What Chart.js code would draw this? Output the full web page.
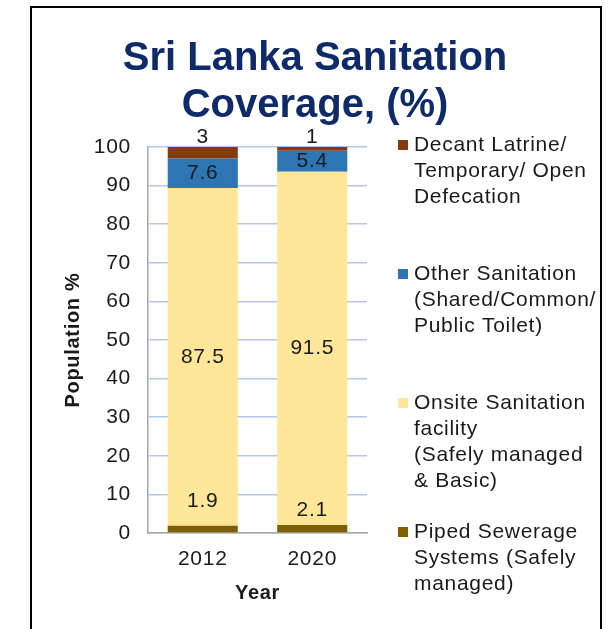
<!DOCTYPE html>
<html>
<head>
<meta charset="utf-8">
<script src="https://cdn.jsdelivr.net/npm/chart.js@4/dist/chart.umd.min.js"></script>
<style>
  html, body { margin: 0; padding: 0; background: #fff; }
  #wrap { width: 613px; height: 629px; }
</style>
</head>
<body>
<div id="wrap"><canvas id="sanitation"></canvas></div>
<script>
// categorias e valores (%)
const years = ["2012", "2020"];
const piped = [1.9, 2.1];
const onsite = [87.5, 91.5];
const other = [7.6, 5.4];
const decant = [3, 1];

const seriesNames = [
    "Piped Sewerage Systems (Safely managed)",
    "Onsite Sanitation facility (Safely managed & Basic)",
    "Other Sanitation (Shared/Common/ Public Toilet)",
    "Decant Latrine/ Temporary/ Open Defecation"
];
const seriesColors = ["#7f6000", "#ffe699", "#2e75b6", "#843c0c"];

// texto da legenda, linha a linha (de cima para baixo)
const legendLines = [
    ["Decant Latrine/", "Temporary/ Open", "Defecation"],
    ["Other Sanitation", "(Shared/Common/", "Public Toilet)"],
    ["Onsite Sanitation", "facility", "(Safely managed", "& Basic)"],
    ["Piped Sewerage", "Systems (Safely", "managed)"]
];
const legendColors = ["#843c0c", "#2e75b6", "#ffe699", "#7f6000"];

const titleLines = ["Sri Lanka Sanitation", "Coverage, (%)"];

const FONT = "'Liberation Sans', Arial, sans-serif";
const TEXT = "#1a1a1a";
const SPACING = "0.7px";

// moldura preta aberta em baixo + título
const framePlugin = {
    id: "frame",
    beforeDraw(chart) {
        const ctx = chart.ctx;
        ctx.save();
        ctx.strokeStyle = "#000";
        ctx.lineWidth = 2;
        ctx.beginPath();
        ctx.moveTo(31, 629);
        ctx.lineTo(31, 7);
        ctx.lineTo(601, 7);
        ctx.lineTo(601, 629);
        ctx.stroke();

        ctx.letterSpacing = "0px";
        ctx.fillStyle = "#0f2a69";
        ctx.font = "bold 40px " + FONT;
        ctx.textAlign = "center";
        ctx.textBaseline = "alphabetic";
        titleLines.forEach((t, i) => ctx.fillText(t, 315, 70 + i * 47));
        ctx.restore();
        // espaçamento para os textos dos eixos
        ctx.letterSpacing = SPACING;
    }
};

// rótulos de valor nas barras
const valueLabelPlugin = {
    id: "valueLabels",
    afterDatasetsDraw(chart) {
        const ctx = chart.ctx;
        const pipedLift = [24, 15];
        ctx.save();
        ctx.letterSpacing = SPACING;
        ctx.font = "21px " + FONT;
        ctx.fillStyle = TEXT;
        ctx.textAlign = "center";
        ctx.textBaseline = "middle";
        chart.data.datasets.forEach((ds, di) => {
            const meta = chart.getDatasetMeta(di);
            meta.data.forEach((bar, i) => {
                const v = ds.data[i];
                let y;
                if (di === 0) y = bar.y - pipedLift[i];
                else if (di === 3) y = bar.y - 10;
                else y = (bar.y + bar.base) / 2;
                ctx.fillText(String(v), bar.x, y);
            });
        });
        ctx.restore();
    }
};

// legenda à direita com várias linhas por item
const sideLegendPlugin = {
    id: "sideLegend",
    afterDraw(chart) {
        const ctx = chart.ctx;
        const x0 = 398, top = 145, itemStep = 129, lineH = 26;
        ctx.save();
        ctx.letterSpacing = SPACING;
        ctx.font = "21px " + FONT;
        ctx.textAlign = "left";
        ctx.textBaseline = "middle";
        legendLines.forEach((lines, i) => {
            const y = top + i * itemStep;
            ctx.fillStyle = legendColors[i];
            ctx.fillRect(x0, y - 5, 10, 10);
            ctx.fillStyle = TEXT;
            lines.forEach((t, j) => ctx.fillText(t, x0 + 16, y + j * lineH));
        });
        ctx.restore();
    }
};

const ctx = document.getElementById("sanitation").getContext("2d");

new Chart(ctx, {
    type: "bar",
    data: {
        labels: years,
        datasets: [piped, onsite, other, decant].map((vals, i) => ({
            label: seriesNames[i],
            data: vals,
            backgroundColor: seriesColors[i],
            borderWidth: 0,
            barPercentage: 0.64,
            categoryPercentage: 1
        }))
    },
    options: {
        responsive: true,
        maintainAspectRatio: false,
        animation: false,
        layout: { padding: { left: 61, right: 246, top: 147, bottom: 24 } },
        plugins: {
            legend: { display: false },
            title: { display: false },
            tooltip: { enabled: false }
        },
        scales: {
            x: {
                stacked: true,
                grid: { display: false, drawTicks: false },
                border: { color: "#a6a6a6", width: 1.5 },
                ticks: { color: TEXT, font: { family: FONT, size: 21 }, padding: 14 },
                title: {
                    display: true, text: "Year", color: TEXT,
                    font: { family: FONT, size: 20, weight: "bold" },
                    padding: 0
                },
                afterFit(scale) { scale.height = 72; }
            },
            y: {
                stacked: true,
                min: 0,
                max: 100,
                grid: { color: "#b4c7e7", lineWidth: 1.5, drawTicks: false },
                border: { color: "#a6a6a6", width: 1.5 },
                ticks: { stepSize: 10, color: TEXT, font: { family: FONT, size: 21 }, padding: 17 },
                title: {
                    display: true, text: "Population %", color: TEXT,
                    font: { family: FONT, size: 20, weight: "bold" },
                    padding: 0
                },
                afterFit(scale) { scale.width = 87; }
            }
        }
    },
    plugins: [framePlugin, valueLabelPlugin, sideLegendPlugin]
});
</script>
</body>
</html>
